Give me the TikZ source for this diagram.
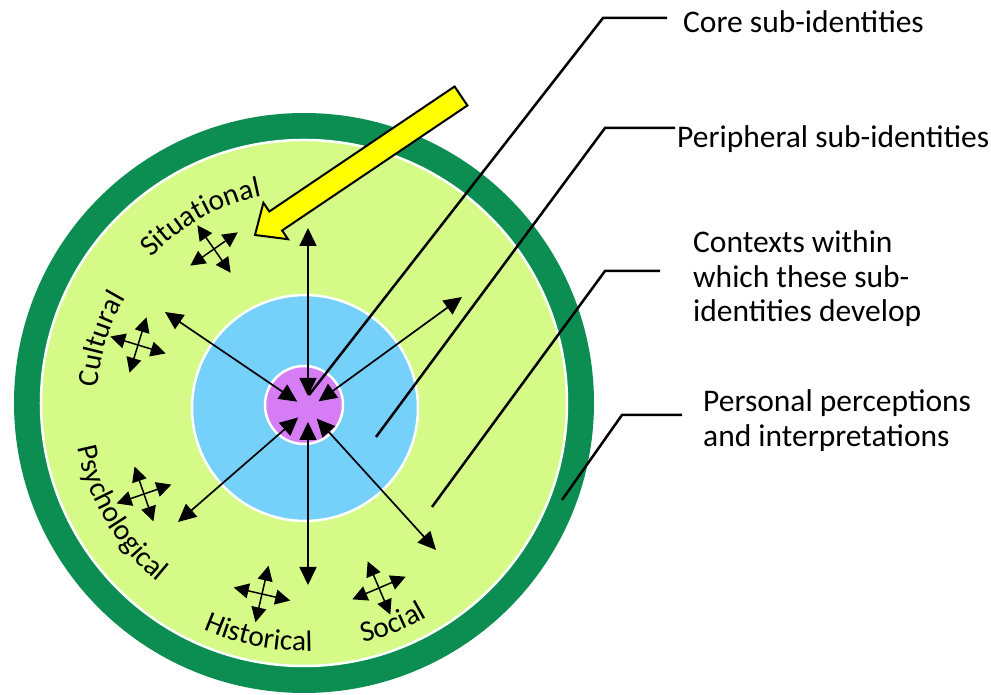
\documentclass[tikz,border=0pt]{standalone}
\usepackage{fontspec}
\setmainfont{Carlito}
\usetikzlibrary{arrows.meta,positioning,calc,decorations.text}
\definecolor{ringgreen}{RGB}{12,142,82}
\definecolor{fieldgreen}{RGB}{213,250,135}
\definecolor{skyblue}{RGB}{117,208,250}
\definecolor{corepurple}{RGB}{214,125,245}
\definecolor{pointeryellow}{RGB}{255,255,0}
\newcommand{\lblfont}{\fontsize{31.5}{34.5}\selectfont}
\newcommand{\ringfont}{\fontsize{29.5}{32}\selectfont}

\begin{document}
\begin{tikzpicture}[
  x=1pt, y=1pt,
  spoke/.style={{Triangle[length=18pt,width=17pt]}-{Triangle[length=18pt,width=17pt]}, line width=1.7pt},
  twinhead/.style={{Triangle[length=15pt,width=15pt]}-{Triangle[length=15pt,width=15pt]}, line width=1.5pt},
  leader/.style={line width=2.5pt, line join=miter},
  lbl/.style={font=\lblfont, inner sep=0pt, align=left},
  crossarr/.pic={
    \draw[twinhead] (-29,0) -- (29,0);
    \draw[twinhead] (0,-29) -- (0,29);
  }]
  \useasboundingbox[fill=white] (-304,-292) rectangle (687,403);

  % nested circles
  \fill[ringgreen] (0,0) circle[radius=290];
  \filldraw[fill=fieldgreen, draw=white, line width=2.5pt] (0,0) circle[radius=263];
  \filldraw[fill=skyblue, draw=white, line width=2.5pt] (1,-5) circle[radius=113];
  \filldraw[fill=corepurple, draw=white, line width=2.5pt] (0,-2) circle[radius=39];

  % context names along the ring
  \path[decorate, decoration={text along path, text align=center, text={|\ringfont|Situational}}]
    (138:211) arc[start angle=138, end angle=100, radius=211];
  \path[decorate, decoration={text along path, text align=center, text={|\ringfont|Cultural}}]
    (177:207) arc[start angle=177, end angle=148, radius=207];
  \path[decorate, decoration={text along path, text align=center, text={|\ringfont|Psychological}}]
    (186:231) arc[start angle=186, end angle=236, radius=231];
  \path[decorate, decoration={text along path, text align=center, text={|\ringfont|Historical}}]
    (245:248) arc[start angle=245, end angle=273, radius=248];
  \path[decorate, decoration={text along path, text align=center, text={|\ringfont|Social}}]
    (283:247) arc[start angle=283, end angle=301, radius=247];

  % four-way arrows
  \pic[rotate=35] at (-90,154) {crossarr};
  \pic[rotate=-17] at (-166,58) {crossarr};
  \pic[rotate=19] at (-160,-91) {crossarr};
  \pic[rotate=-13] at (-42,-191) {crossarr};
  \pic[rotate=23] at (75,-185) {crossarr};

  % spokes between core and contexts
  \coordinate (hub) at (4,-6);
  \coordinate (upO) at (4,175);
  \coordinate (ulO) at (-139,91);
  \coordinate (urO) at (158,106);
  \coordinate (llO) at (-126,-119);
  \coordinate (dnO) at (4,-182);
  \coordinate (lrO) at (132,-147);
  \foreach \o in {upO,ulO,urO,llO,dnO,lrO}
    \draw[spoke] ($(hub)!13pt!(\o)$) -- (\o);

  % leader lines
  \coordinate (coreIn) at (5,8);
  \coordinate (coreKnee) at (299,385);
  \coordinate (coreEnd) at (363,385);
  \coordinate (periIn) at (72,-34);
  \coordinate (periKnee) at (301,275);
  \coordinate (periEnd) at (371,275);
  \coordinate (ctxIn) at (128,-104);
  \coordinate (ctxKnee) at (301,132);
  \coordinate (ctxEnd) at (356,132);
  \coordinate (persIn) at (258,-97);
  \coordinate (persKnee) at (318,-12);
  \coordinate (persEnd) at (378,-12);
  \draw[leader] (coreIn) -- (coreKnee) -- (coreEnd);
  \draw[leader] (periIn) -- (periKnee) -- (periEnd);
  \draw[leader] (ctxIn) -- (ctxKnee) -- (ctxEnd);
  \draw[leader] (persIn) -- (persKnee) -- (persEnd);

  % yellow pointer
  \filldraw[fill=pointeryellow, draw=black, line width=2pt, line join=miter]
    (150.6,316.5) -- (-34.7,191.5) -- (-40.6,200.2) -- (-49,168)
    -- (-16,163.8) -- (-21.9,172.5) -- (163.4,297.5) -- cycle;

  % labels
  \node[lbl, anchor=base west] (coreLbl) at (379,370) {Core sub-identities};
  \node[lbl, anchor=base west] (periLbl) at (373,255) {Peripheral sub-identities};
  \node[lbl, anchor=north west] (ctxLbl) at (389,172.5)
    {Contexts within\\which these sub-\\identities develop};
  \node[lbl, anchor=north west] (persLbl) at (399,13.5)
    {Personal perceptions\\and interpretations};
\end{tikzpicture}
\end{document}
